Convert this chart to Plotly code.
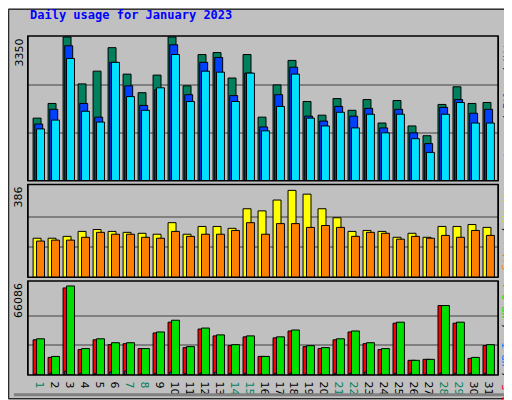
#!/usr/bin/env python3
# Webalizer style daily usage chart for January 2023
import plotly.graph_objects as go

days = list(range(1, 32))
weekend = [1, 7, 8, 14, 15, 21, 22, 28, 29]

hits = [1459, 1801, 3350, 2257, 2554, 3101, 2485, 2052, 2462, 3350, 2212, 2941, 2987, 2394, 2941, 1482,
        2234, 2804, 1847, 1528, 1915, 1642, 1892, 1345, 1870, 1277, 1049, 1778, 2189, 1801, 1824]
files = [1322, 1664, 3146, 1801, 1482, 2759, 2212, 1756, 2120, 3169, 2006, 2759, 2873, 1984, 2508, 1254,
         2006, 2645, 1505, 1391, 1733, 1505, 1687, 1231, 1664, 1117, 866, 1710, 1892, 1573, 1664]
pages = [1208, 1414, 2850, 1619, 1368, 2759, 1961, 1642, 2166, 2941, 1847, 2554, 2531, 1847, 2508, 1163,
         1733, 2485, 1459, 1277, 1596, 1231, 1550, 1117, 1550, 980, 661, 1550, 1824, 1345, 1345]
visits = [166, 166, 174, 195, 203, 195, 191, 187, 183, 232, 183, 216, 216, 208, 291, 282,
          328, 369, 353, 291, 253, 195, 199, 195, 170, 187, 170, 216, 216, 224, 212]
sites = [154, 158, 158, 170, 191, 183, 183, 170, 166, 195, 174, 183, 183, 199, 232, 183,
         228, 228, 212, 220, 212, 174, 191, 187, 162, 174, 166, 178, 170, 199, 178]
kb_f = [26136, 13068, 64614, 18876, 26136, 22506, 23232, 19602, 31218, 39204, 20328, 34122, 29040, 21780,
        28314, 13794, 27588, 32670, 21054, 19602, 26136, 31944, 23232, 18876, 38478, 10890, 11616, 51546,
        38478, 12342, 21780]
kb_in = [700, 1400, 2900, 1400, 1400, 2200, 2900, 700, 1400, 2200, 1400, 1400, 2200, 1400, 1400, 700,
         1400, 1400, 700, 700, 1400, 1400, 2200, 700, 1400, 1400, 700, 1400, 1400, 1400, 1400]
kb_out = [26862, 13794, 66086, 19602, 26862, 23958, 23958, 19602, 31944, 40656, 21054, 34848, 29766, 22506,
          29040, 13794, 28314, 33396, 21780, 20328, 26862, 32670, 23958, 19602, 39204, 10890, 11616, 51546,
          39204, 13068, 22506]

top_max, mid_max, bot_max = 3350, 386, 66086

fig = go.Figure()
line = dict(color="black", width=1)

def add(vals, color, offset, width, yaxis):
    fig.add_trace(go.Bar(x=days, y=vals, marker=dict(color=color, line=line),
                         offset=offset, width=width, yaxis=yaxis, hoverinfo="y"))

add(hits, "#00805c", -0.53, 0.53, "y")
add(files, "#0040ff", -0.42, 0.53, "y")
add(pages, "#00e0ff", -0.3, 0.53, "y")
add(visits, "#ffff00", -0.53, 0.53, "y2")
add(sites, "#ff8000", -0.3, 0.53, "y2")
add(kb_f, "#ff0000", -0.53, 0.5, "y3")
add(kb_in, "#0080ff", -0.42, 0.12, "y3")
add(kb_out, "#00e000", -0.3, 0.53, "y3")

ticktext = ["<span style='color:%s'>%d</span>" % ("#00805c" if d in weekend else "black", d) for d in days]

def yax(domain, mx, top):
    return dict(domain=domain, range=[0, top], tickvals=[mx / 3, mx * 2 / 3], showticklabels=False,
                showgrid=True, gridcolor="#808080", gridwidth=1.5, zeroline=False,
                showline=True, linecolor="black", mirror=True, anchor="x", fixedrange=True)

fig.update_layout(
    width=512, height=400, barmode="overlay", showlegend=False,
    paper_bgcolor="#c0c0c0", plot_bgcolor="#c0c0c0",
    margin=dict(l=20, r=22, t=28, b=25),
    font=dict(family="DejaVu Sans", size=11, color="black"),
    xaxis=dict(range=[0.13, 31.47], tickvals=days, ticktext=ticktext, ticks="", showgrid=False,
               zeroline=False, fixedrange=True, tickfont=dict(size=11), anchor="y3"),
    yaxis=yax([0.573, 1], top_max, 3373),
    yaxis2=yax([0.288, 0.562], mid_max, 394),
    yaxis3=yax([0, 0.277], bot_max, 69700),
)

for d in ([0.573, 1], [0.288, 0.562], [0, 0.277]):
    fig.add_shape(type="rect", xref="paper", yref="paper", x0=0, x1=1, y0=d[0], y1=d[1],
                  line=dict(color="black", width=1.5))

# outer frame with bevel
fig.add_shape(type="rect", xref="paper", yref="paper", x0=-0.041, x1=1.045, y0=-0.07, y1=1.079,
              line=dict(color="black", width=1))
fig.add_shape(type="line", xref="paper", yref="paper", x0=-0.03, x1=1.033, y0=-0.058, y1=-0.058,
              line=dict(color="#808080", width=3))
fig.add_shape(type="line", xref="paper", yref="paper", x0=1.033, x1=1.033, y0=-0.058, y1=1.068,
              line=dict(color="#808080", width=3))

mono = "DejaVu Sans Mono"
fig.add_annotation(text="<b>Daily usage for January 2023</b>", xref="paper", yref="paper",
                   x=0, y=1.062, xanchor="left", yanchor="middle", showarrow=False,
                   font=dict(family=mono, size=12, color="#0000ff"))

for lab, dom in (("3350", 1), ("386", 0.562), ("66086", 0.277)):
    fig.add_annotation(text=lab, xref="paper", yref="paper", x=0, y=dom, textangle=-90,
                       xanchor="right", yanchor="top", xshift=-1, showarrow=False,
                       font=dict(size=11, color="black"))

legends = [
    ("<span style='color:#00e0ff'>Pages</span> / <span style='color:#0040ff'>Files</span>"
     " / <span style='color:#00805c'>Hits</span>", 1),
    ("<span style='color:#ff8000'>Sites</span> / <span style='color:#e0e000'>Visits</span>", 0.562),
    ("<span style='color:#ff0000'>KB F</span> / <span style='color:#0080ff'>KB In</span>"
     " / <span style='color:#00e000'>KB Out</span>", 0.277),
]
for txt, dom in legends:
    fig.add_annotation(text=txt, xref="paper", yref="paper", x=1, y=dom, textangle=-90,
                       xanchor="left", yanchor="top", xshift=1, showarrow=False,
                       font=dict(family=mono, size=10, color="black"))

fig.write_html("out.html")
